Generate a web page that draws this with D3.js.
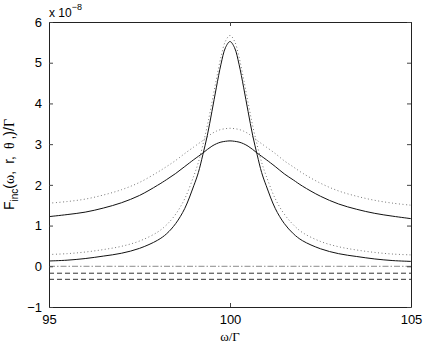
<!DOCTYPE html>
<html>
<head>
<meta charset="utf-8">
<script src="https://cdn.jsdelivr.net/npm/d3@7"></script>
<style>
  body { margin: 0; background: #fff; }
  svg { display: block; }
</style>
</head>
<body>
<div class="chart"></div>
<script>
// F_inc vs omega/Gamma, values read in units of 1e-8

var omega = [95, 95.5, 96, 96.5, 97, 97.5, 98, 98.25, 98.5, 98.75, 99, 99.125, 99.25, 99.375,
             99.5, 99.625, 99.75, 99.875, 100, 100.125, 100.25, 100.375, 100.5, 100.625, 100.75,
             100.875, 101, 101.25, 101.5, 101.75, 102, 102.5, 103, 103.5, 104, 104.5, 105];

var narrowSolid = [0.13, 0.15, 0.19, 0.25, 0.32, 0.44, 0.64, 0.80, 1.05, 1.42, 1.98, 2.30, 2.74, 3.22,
                   3.80, 4.40, 4.96, 5.37, 5.52, 5.37, 4.96, 4.40, 3.80, 3.22, 2.74,
                   2.30, 1.98, 1.42, 1.05, 0.80, 0.63, 0.43, 0.31, 0.24, 0.18, 0.14, 0.12];

var narrowDotted = [0.29, 0.31, 0.35, 0.41, 0.49, 0.62, 0.84, 1.02, 1.28, 1.66, 2.22, 2.55, 2.98, 3.46,
                    4.02, 4.60, 5.14, 5.53, 5.67, 5.53, 5.14, 4.60, 4.02, 3.46, 2.98,
                    2.55, 2.22, 1.66, 1.28, 1.02, 0.83, 0.61, 0.48, 0.40, 0.34, 0.30, 0.28];

var broadSolid = [1.22, 1.27, 1.33, 1.43, 1.56, 1.74, 1.99, 2.13, 2.28, 2.45, 2.62, 2.70, 2.78, 2.87,
                  2.95, 3.01, 3.05, 3.07, 3.08, 3.07, 3.05, 3.01, 2.95, 2.87, 2.78,
                  2.70, 2.62, 2.45, 2.27, 2.12, 1.97, 1.72, 1.53, 1.40, 1.30, 1.23, 1.17];

var broadDotted = [1.55, 1.59, 1.65, 1.75, 1.88, 2.06, 2.31, 2.45, 2.60, 2.77, 2.93, 3.01, 3.09, 3.18,
                   3.26, 3.32, 3.36, 3.38, 3.39, 3.38, 3.36, 3.32, 3.26, 3.18, 3.09,
                   3.01, 2.93, 2.77, 2.59, 2.44, 2.29, 2.04, 1.85, 1.72, 1.62, 1.55, 1.50];

var flatLevels = [0, -0.17, -0.32];

var xTicks = [95, 100, 105];
var yTicks = [-1, 0, 1, 2, 3, 4, 5, 6];

var margin = {top: 22, right: 14, bottom: 40, left: 49},
    width  = 425 - margin.left - margin.right,
    height = 347 - margin.top - margin.bottom;

var sans  = "'Liberation Sans', Arial, Helvetica, sans-serif";
var serif = "'Liberation Serif', 'Times New Roman', serif";

var svg = d3.select(".chart").append("svg")
    .attr("width", 425)
    .attr("height", 347)
  .append("g")
    .attr("transform", "translate(" + margin.left + "," + margin.top + ")");

var x = d3.scaleLinear().domain([95, 105]).range([0, width]);
var y = d3.scaleLinear().domain([-1, 6]).range([height, 0]);

var line = d3.line()
    .x(function(d) { return x(d[0]); })
    .y(function(d) { return y(d[1]); })
    .curve(d3.curveCatmullRom);

function pairs(vals) {
    return omega.map(function(w, i) { return [w, vals[i]]; });
}

// flat lines near zero
svg.append("path")
    .attr("d", line([[95, flatLevels[0]], [105, flatLevels[0]]]))
    .attr("fill", "none").attr("stroke", "#8a8a8a").attr("stroke-width", 1)
    .attr("stroke-dasharray", "6,2,1.5,2");
svg.append("path")
    .attr("d", line([[95, flatLevels[1]], [105, flatLevels[1]]]))
    .attr("fill", "none").attr("stroke", "#333").attr("stroke-width", 1)
    .attr("stroke-dasharray", "5,3");
svg.append("path")
    .attr("d", line([[95, flatLevels[2]], [105, flatLevels[2]]]))
    .attr("fill", "none").attr("stroke", "#333").attr("stroke-width", 1)
    .attr("stroke-dasharray", "5,3");

// curves
[broadDotted, narrowDotted].forEach(function(s) {
    svg.append("path")
        .attr("d", line(pairs(s)))
        .attr("fill", "none").attr("stroke", "#777").attr("stroke-width", 1)
        .attr("stroke-dasharray", "1,2.5");
});
[broadSolid, narrowSolid].forEach(function(s) {
    svg.append("path")
        .attr("d", line(pairs(s)))
        .attr("fill", "none").attr("stroke", "#111").attr("stroke-width", 1);
});

// box axes, matlab style ticks inside
var tl = 4;
svg.append("g").attr("transform", "translate(0," + height + ")")
    .call(d3.axisBottom(x).tickValues(xTicks).tickSizeInner(-tl).tickSizeOuter(0).tickPadding(8));
svg.append("g")
    .call(d3.axisTop(x).tickValues(xTicks).tickSizeInner(-tl).tickSizeOuter(0).tickFormat(""));
svg.append("g")
    .call(d3.axisLeft(y).tickValues(yTicks).tickSizeInner(-tl).tickSizeOuter(0).tickPadding(7)
          .tickFormat(function(d) { return d < 0 ? "\u2212" + (-d) : d; }));
svg.append("g").attr("transform", "translate(" + width + ",0)")
    .call(d3.axisRight(y).tickValues(yTicks).tickSizeInner(-tl).tickSizeOuter(0).tickFormat(""));

svg.selectAll(".domain").attr("stroke", "#222");
svg.selectAll(".tick line").attr("stroke", "#444");
svg.selectAll(".tick text").attr("fill", "#000")
    .style("font-size", "13px").style("font-family", sans);

// exponent label
var ex = svg.append("text").attr("x", 0).attr("y", -5)
    .style("font-family", sans).style("font-size", "12px");
ex.append("tspan").text("x 10");
ex.append("tspan").attr("dy", -7).style("font-size", "9px").text("\u22128");

// x label
svg.append("text")
    .attr("x", width / 2).attr("y", height + 34)
    .attr("text-anchor", "middle")
    .style("font-family", serif).style("font-size", "13px")
    .text("\u03c9/\u0393");

// y label
var yl = svg.append("text")
    .attr("transform", "translate(-35," + (height / 2) + ") rotate(-90)")
    .attr("text-anchor", "middle")
    .style("font-family", sans).style("font-size", "14px");
yl.append("tspan").text("F");
yl.append("tspan").attr("dy", 4).style("font-size", "10px").text("inc");
yl.append("tspan").attr("dy", -4).text("(");
yl.append("tspan").style("font-family", serif).text("\u03c9");
yl.append("tspan").text(",\u2002r,\u2002");
yl.append("tspan").style("font-family", serif).text("\u03b8");
yl.append("tspan").text("\u2009,)/");
yl.append("tspan").style("font-family", serif).text("\u0393");
</script>
</body>
</html>
